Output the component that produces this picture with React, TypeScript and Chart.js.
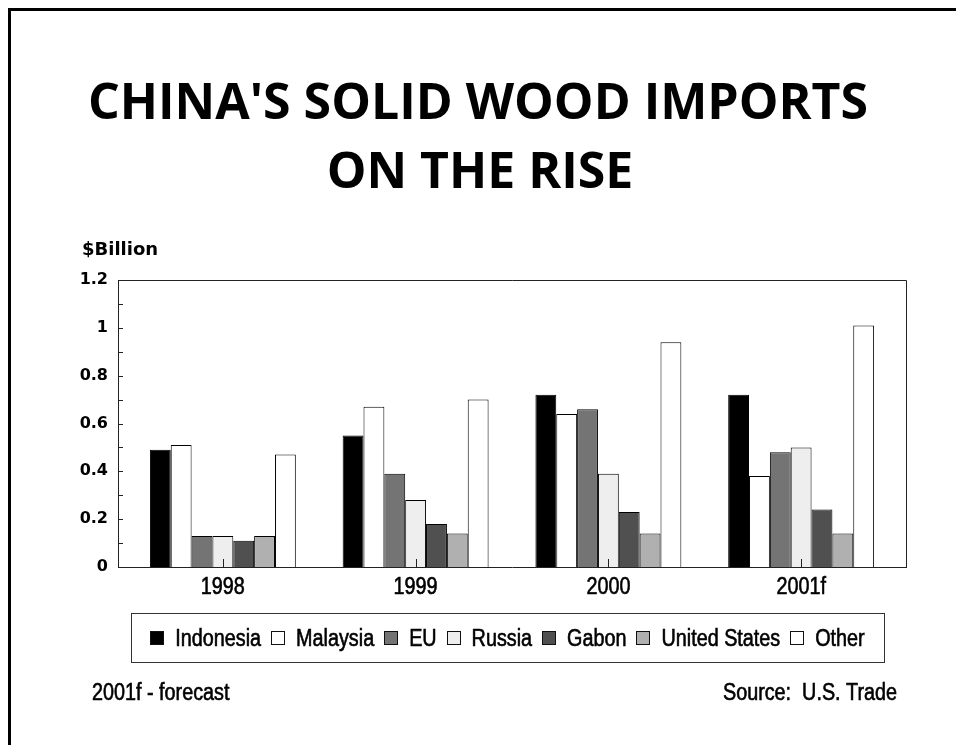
import React, { useEffect, useRef } from "react";
import { Chart, registerables } from "chart.js";

Chart.register(...registerables);

// ---- data ----
const categories = ["1998", "1999", "2000", "2001f"];
const seriesNames = ["Indonesia", "Malaysia", "EU", "Russia", "Gabon", "United States", "Other"];
const indonesia = [0.49, 0.55, 0.72, 0.72];
const malaysia = [0.51, 0.67, 0.64, 0.38];
const eu = [0.13, 0.39, 0.66, 0.48];
const russia = [0.13, 0.28, 0.39, 0.5];
const gabon = [0.11, 0.18, 0.23, 0.24];
const unitedStates = [0.13, 0.14, 0.14, 0.14];
const other = [0.47, 0.7, 0.94, 1.01];
const seriesValues = [indonesia, malaysia, eu, russia, gabon, unitedStates, other];
const seriesColors = ["#000000", "#ffffff", "#747474", "#eeeeee", "#505050", "#b0b0b0", "#ffffff"];
const yMin = 0;
const yMax = 1.2;
const yLabelStep = 0.2;
const yMinorStep = 0.1;
const titleLines = ["CHINA'S SOLID WOOD IMPORTS", "ON THE RISE"];
const yAxisTitle = "$Billion";
const footnote = "2001f - forecast";
const sourceNote = "Source:  U.S. Trade";

const NARROW_FONT = "23px 'Liberation Sans', Arial, sans-serif";
const NARROW_SCALE = 0.86;
const LINE = "#222222";

function narrowText(ctx: CanvasRenderingContext2D, text: string, x: number, y: number, align: CanvasTextAlign) {
  ctx.save();
  ctx.translate(x, y);
  ctx.scale(NARROW_SCALE, 1);
  ctx.textAlign = align;
  ctx.lineWidth = 0.6;
  ctx.strokeStyle = ctx.fillStyle as string;
  ctx.fillText(text, 0, 0);
  ctx.strokeText(text, 0, 0);
  ctx.restore();
}

const decorPlugin = {
  id: "decor",
  beforeDraw(chart: any) {
    const ctx = chart.ctx;
    const W = chart.width;
    const H = chart.height;
    ctx.save();
    ctx.fillStyle = "#ffffff";
    ctx.fillRect(0, 0, W, H);
    // outer frame (top and left)
    ctx.fillStyle = "#000000";
    ctx.fillRect(8, 8, W - 8, 3);
    ctx.fillRect(8, 8, 3, H - 8);
    // title
    ctx.font = "bold 50px 'Open Sans', sans-serif";
    ctx.textAlign = "center";
    ctx.textBaseline = "alphabetic";
    ctx.fillText(titleLines[0], 478, 119);
    ctx.fillText(titleLines[1], 480, 188);
    // y axis title
    ctx.font = "bold 18px 'DejaVu Sans', sans-serif";
    ctx.textAlign = "left";
    ctx.fillText(yAxisTitle, 82, 255);
    ctx.restore();
  },
  afterDatasetsDraw(chart: any) {
    const ctx = chart.ctx;
    const { left, right, top, bottom } = chart.chartArea;
    const ys = chart.scales.y;
    const xs = chart.scales.x;
    ctx.save();
    ctx.strokeStyle = LINE;
    ctx.lineWidth = 1;
    // box around plot
    ctx.beginPath();
    ctx.moveTo(left, top + 0.5);
    ctx.lineTo(right + 0.5, top + 0.5);
    ctx.lineTo(right + 0.5, bottom);
    ctx.stroke();
    // inward y ticks
    ctx.beginPath();
    const n = Math.round((yMax - yMin) / yMinorStep);
    for (let i = 0; i <= n; i++) {
      const py = Math.round(ys.getPixelForValue(yMin + i * yMinorStep)) + 0.5;
      ctx.moveTo(left, py);
      ctx.lineTo(left + 5, py);
    }
    // inward x ticks at category centres
    categories.forEach((_, i) => {
      const px = Math.round(xs.getPixelForValue(i)) + 0.5;
      ctx.moveTo(px, bottom);
      ctx.lineTo(px, bottom - 8);
    });
    ctx.stroke();
    // category labels (condensed)
    ctx.fillStyle = "#000";
    ctx.font = NARROW_FONT;
    ctx.textBaseline = "alphabetic";
    categories.forEach((c, i) => {
      narrowText(ctx, c, xs.getPixelForValue(i), bottom + 27, "center");
    });
    ctx.restore();
  },
  afterDraw(chart: any) {
    const ctx = chart.ctx;
    ctx.save();
    // legend box
    const boxL = 131, boxR = 884, boxT = 613, boxB = 662;
    ctx.strokeStyle = "#333";
    ctx.lineWidth = 1;
    ctx.strokeRect(boxL + 0.5, boxT + 0.5, boxR - boxL, boxB - boxT);
    ctx.font = NARROW_FONT;
    ctx.textBaseline = "alphabetic";
    const marker = 14;
    const gapMT = 11;
    const gapItem = 10;
    const items = chart.data.datasets.map((d: any) => ({
      label: d.label,
      color: d.backgroundColor,
      w: ctx.measureText(d.label).width * NARROW_SCALE,
    }));
    const total =
      items.reduce((s: number, it: any) => s + marker + gapMT + it.w, 0) + gapItem * (items.length - 1);
    let x = (boxL + boxR) / 2 - total / 2;
    const cy = (boxT + boxB) / 2;
    items.forEach((it: any) => {
      const mx = Math.round(x);
      const my = Math.round(cy - marker / 2);
      ctx.fillStyle = it.color;
      ctx.fillRect(mx, my, marker, marker);
      ctx.strokeStyle = "#111";
      ctx.lineWidth = 1;
      ctx.strokeRect(mx + 0.5, my + 0.5, marker - 1, marker - 1);
      x += marker + gapMT;
      ctx.fillStyle = "#000";
      narrowText(ctx, it.label, x, cy + 8.5, "left");
      x += it.w + gapItem;
    });
    // footer
    ctx.fillStyle = "#000";
    narrowText(ctx, footnote, 92, 700, "left");
    narrowText(ctx, sourceNote, 897, 700, "right");
    ctx.restore();
  },
};

export default function App() {
  const ref = useRef<HTMLCanvasElement | null>(null);
  useEffect(() => {
    if (!ref.current) return;
    const chart = new Chart(ref.current, {
      type: "bar",
      data: {
        datasets: seriesNames.map((name, k) => ({
          label: name,
          data: seriesValues[k].map((v, i) => ({ x: i, y: v })),
          backgroundColor: seriesColors[k],
          borderColor: "#000",
          borderWidth: 1,
          categoryPercentage: 0.757,
          barPercentage: 1.0,
        })),
      },
      options: {
        animation: false,
        responsive: false,
        devicePixelRatio: 1,
        layout: { padding: { top: 280, left: 0, right: 50, bottom: 138 } },
        plugins: {
          legend: { display: false },
          title: { display: false },
          tooltip: { enabled: false },
        },
        scales: {
          x: {
            type: "linear",
            min: -0.544,
            max: 3.544,
            offset: false,
            grid: { display: false, drawTicks: false },
            border: { display: true, color: LINE, width: 1 },
            afterBuildTicks: (s: any) => {
              s.ticks = categories.map((_, i) => ({ value: i }));
            },
            afterFit: (s: any) => {
              s.height = 40;
            },
            ticks: { display: false },
          },
          y: {
            min: yMin,
            max: yMax,
            grid: { display: false, drawTicks: false },
            border: { display: true, color: LINE, width: 1 },
            afterFit: (s: any) => {
              s.width = 118;
            },
            ticks: {
              stepSize: yLabelStep,
              padding: 10,
              color: "#000",
              font: { family: "'DejaVu Sans', sans-serif", weight: "bold", size: 16 },
              callback: (v: any) => String(Math.round(Number(v) * 10) / 10),
            },
          },
        },
      },
      plugins: [decorPlugin],
    });
    return () => chart.destroy();
  }, []);
  return (
    <div style={{ position: "absolute", left: 0, top: 0, width: 956, height: 745, overflow: "hidden" }}>
      <canvas ref={ref} width={956} height={745} style={{ display: "block" }} />
    </div>
  );
}
